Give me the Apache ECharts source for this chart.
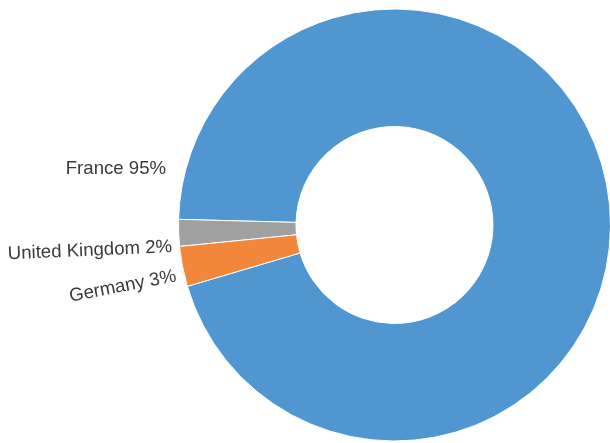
<!DOCTYPE html>
<html>
<head>
<meta charset="utf-8">
<title>Share by country</title>
<script src="https://cdn.jsdelivr.net/npm/echarts@6/dist/echarts.min.js"></script>
<style>
  html, body { margin: 0; padding: 0; background: #ffffff; }
  #chart { width: 610px; height: 443px; }
</style>
</head>
<body>
<div id="chart"></div>
<script>
// Country shares (percent)
const countries = ['France', 'United Kingdom', 'Germany'];
const shares = [95, 2, 3];
const sliceColors = ['#5097d2', '#a0a0a0', '#f2863b'];

// Label placement: anchor at the right end of each label, rotation in degrees
const labelSpots = [
  { x: 166, y: 169, rotate: 0 },
  { x: 172, y: 247, rotate: 2.5 },
  { x: 176, y: 276, rotate: 11 }
];

const chart = echarts.init(document.getElementById('chart'), null, { renderer: 'canvas' });

const pieData = countries.map((name, i) => ({
  name: name,
  value: shares[i],
  itemStyle: { color: sliceColors[i] }
}));

chart.setOption({
  animation: false,
  backgroundColor: '#ffffff',
  series: [{
    type: 'pie',
    center: [394.5, 225],
    radius: [98.5, 216],
    startAngle: 196.5,
    clockwise: false,
    avoidLabelOverlap: false,
    itemStyle: { borderColor: '#ffffff', borderWidth: 1 },
    label: {
      show: true,
      position: 'outside',
      formatter: p => p.name + ' ' + p.value + '%',
      fontFamily: 'Liberation Sans',
      fontSize: 18.6,
      color: '#3a3a3a',
      width: 240,
      overflow: 'none'
    },
    labelLine: { show: false },
    labelLayout: function (params) {
      const s = labelSpots[params.dataIndex];
      return {
        x: s.x,
        y: s.y,
        rotate: s.rotate,
        align: 'right',
        verticalAlign: 'middle',
        hideOverlap: false
      };
    },
    emphasis: { disabled: true },
    data: pieData
  }]
});
</script>
</body>
</html>
